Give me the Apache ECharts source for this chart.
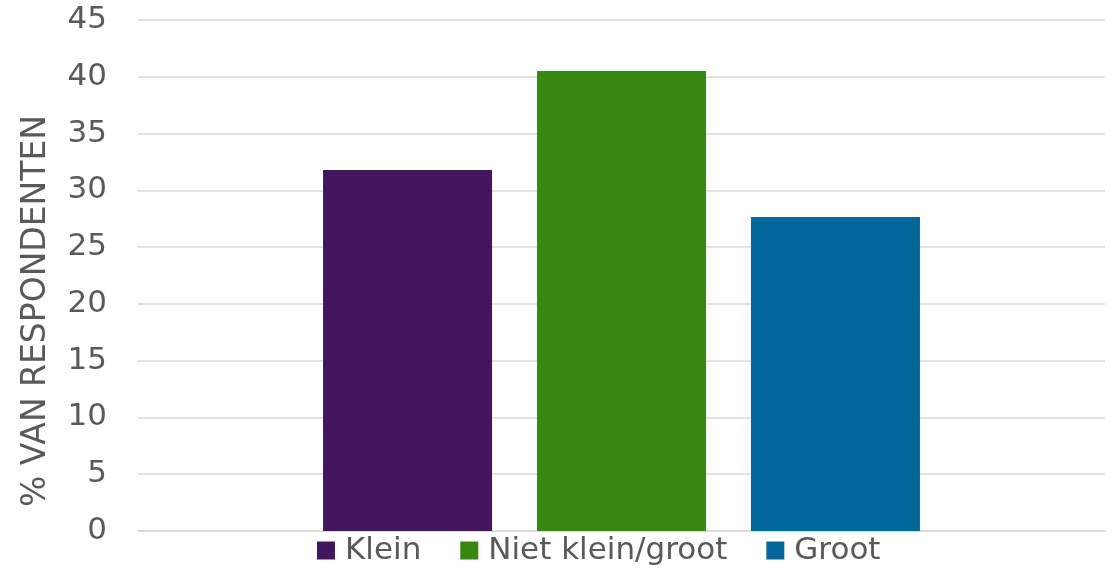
<!DOCTYPE html>
<html>
<head>
<meta charset="UTF-8">
<title>Respondenten</title>
<script src="https://cdn.jsdelivr.net/npm/echarts@6/dist/echarts.min.js"></script>
<style>
  body{margin:0;background:#fff}
</style>
</head>
<body>
<div id="main" style="width:1113px;height:569px"></div>
<script>
// data
var categories = [''];
var seriesNames = ['Klein', 'Niet klein/groot', 'Groot'];
var seriesValues = [31.8, 40.5, 27.65];
var seriesColors = ['#43155f', '#38870e', '#00679a'];

var chart = echarts.init(document.getElementById('main'));
var font = 'DejaVu Sans';

var series = seriesNames.map(function (name, i) {
  return {
    name: name,
    type: 'bar',
    data: [seriesValues[i]],
    barWidth: 169,
    barGap: '26.6%',
    itemStyle: { color: seriesColors[i] }
  };
});

var option = {
  animation: false,
  grid: { left: 138, right: 8, top: 20, bottom: 38 },
  legend: {
    data: seriesNames,
    top: 535,
    left: 317,
    padding: 0,
    icon: 'rect',
    itemWidth: 18,
    itemHeight: 18,
    itemGap: 39,
    textStyle: { fontFamily: font, fontSize: 31, color: '#595959', padding: [0, 0, 0, 5] }
  },
  xAxis: {
    type: 'category',
    data: categories,
    axisLine: { lineStyle: { color: '#d9d9d9', width: 1.5 } },
    axisTick: { show: false },
    axisLabel: { show: false }
  },
  yAxis: {
    type: 'value',
    min: 0,
    max: 45,
    interval: 5,
    axisLine: { show: false },
    axisTick: { show: false },
    splitLine: { lineStyle: { color: '#d9d9d9', width: 1.5 } },
    axisLabel: { fontFamily: font, fontSize: 31, color: '#595959', margin: 31 }
  },
  graphic: [{
    type: 'text',
    left: 20,
    top: 115,
    rotation: Math.PI / 2,
    style: {
      text: '% VAN RESPONDENTEN',
      font: '33px "DejaVu Sans"',
      fill: '#595959'
    }
  }],
  series: series
};

chart.setOption(option);
</script>
</body>
</html>
